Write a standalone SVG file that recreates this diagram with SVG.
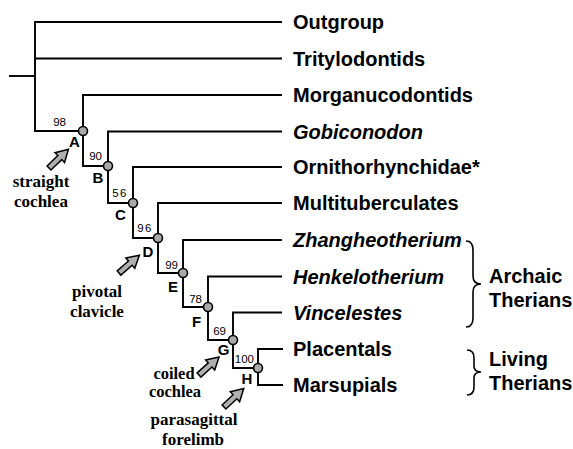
<svg xmlns="http://www.w3.org/2000/svg" width="573" height="449" viewBox="0 0 573 449">
<style>
.edge{fill:none;stroke:#000;stroke-width:1.9;stroke-linejoin:miter}
.nd{fill:#a8a8a8;stroke:#000;stroke-width:1.6}
.sup{font-family:"Liberation Sans",Arial,sans-serif;font-size:11.5px;fill:#000;text-anchor:end}
.ltr{font-family:"Liberation Sans",Arial,sans-serif;font-size:15px;font-weight:bold;fill:#000;text-anchor:middle}
.lab{font-family:"Liberation Sans",Arial,sans-serif;font-size:20px;font-weight:bold;fill:#000}
.it{font-style:italic}
.ann{font-family:"Liberation Serif","Times New Roman",serif;font-size:17px;font-weight:bold;fill:#000;text-anchor:middle}
.ann2{font-size:16.5px}
.brace{fill:none;stroke:#000;stroke-width:1.6}
.arw{fill:#b0b0b0;stroke:#000;stroke-width:1.5;stroke-linejoin:miter}
</style>
<defs>
<path id="arrow" class="arw" d="M0,-2.8 L15,-2.8 L15,-6.8 L27,0 L15,6.8 L15,2.8 L0,2.8 Z"/>
</defs>
<rect width="573" height="449" fill="#fff"/>
<g id="connectors">
<path class="edge" d="M9,76 H35"/>
<path class="edge" d="M282,22 H35 V131 H83"/>
<path class="edge" d="M35,58.5 H282"/>
<path class="edge" d="M282,95 H83 V166 H108"/>
<path class="edge" d="M282,131.5 H108 V203 H133"/>
<path class="edge" d="M282,167 H133 V238 H158"/>
<path class="edge" d="M282,203 H158 V273 H183"/>
<path class="edge" d="M282,240 H183 V307 H208"/>
<path class="edge" d="M282,276.5 H208 V340 H233"/>
<path class="edge" d="M282,312.5 H233 V368 H258"/>
<path class="edge" d="M283,349 H258 V385 H283"/>
</g>
<g id="node-A"><circle class="nd" cx="83" cy="131" r="4.5"/><text class="sup" x="66" y="126">98</text><text class="ltr" x="74.5" y="147">A</text></g>
<g id="node-B"><circle class="nd" cx="108" cy="166" r="4.5"/><text class="sup" x="102" y="160">90</text><text class="ltr" x="98" y="183">B</text></g>
<g id="node-C"><circle class="nd" cx="133" cy="203" r="4.5"/><text class="sup" x="128" y="197" letter-spacing="1.5">56</text><text class="ltr" x="120.5" y="220">C</text></g>
<g id="node-D"><circle class="nd" cx="158" cy="238" r="4.5"/><text class="sup" x="153" y="232" letter-spacing="1.5">96</text><text class="ltr" x="148" y="257">D</text></g>
<g id="node-E"><circle class="nd" cx="183" cy="273" r="4.5"/><text class="sup" x="178" y="269">99</text><text class="ltr" x="173" y="292">E</text></g>
<g id="node-F"><circle class="nd" cx="208" cy="307" r="4.5"/><text class="sup" x="202" y="303">78</text><text class="ltr" x="196.5" y="327">F</text></g>
<g id="node-G"><circle class="nd" cx="233" cy="340" r="4.5"/><text class="sup" x="226" y="335">69</text><text class="ltr" x="223.5" y="355">G</text></g>
<g id="node-H"><circle class="nd" cx="258" cy="368" r="4.5"/><text class="sup" x="254" y="363">100</text><text class="ltr" x="247" y="384">H</text></g>
<g id="leaf-outgroup"><text class="lab" x="293" y="29">Outgroup</text></g>
<g id="leaf-tritylodontids"><text class="lab" x="293" y="65.5">Tritylodontids</text></g>
<g id="leaf-morganucodontids"><text class="lab" x="293" y="102">Morganucodontids</text></g>
<g id="leaf-gobiconodon"><text class="lab it" x="293" y="138.5">Gobiconodon</text></g>
<g id="leaf-ornithorhynchidae"><text class="lab" x="293" y="174">Ornithorhynchidae*</text></g>
<g id="leaf-multituberculates"><text class="lab" x="293" y="210">Multituberculates</text></g>
<g id="leaf-zhangheotherium"><text class="lab it" x="293" y="247">Zhangheotherium</text></g>
<g id="leaf-henkelotherium"><text class="lab it" x="293" y="283.5">Henkelotherium</text></g>
<g id="leaf-vincelestes"><text class="lab it" x="293" y="319.5">Vincelestes</text></g>
<g id="leaf-placentals"><text class="lab" x="293" y="356">Placentals</text></g>
<g id="leaf-marsupials"><text class="lab" x="293" y="392">Marsupials</text></g>
<g id="group-archaic">
<path class="brace" d="M466,241 C471,241 473,244 473,250 L473,276 C473,281 476,284 481,284 C476,284 473,287 473,292 L473,318 C473,324 471,327 466,327"/>
<text class="lab" x="489" y="283">Archaic</text>
<text class="lab" x="489" y="307">Therians</text>
</g>
<g id="group-living">
<path class="brace" d="M467,350 C472,350 474,353 474,358 L474,366 C474,370 477,372 481,372 C477,372 474,374 474,378 L474,387 C474,392 472,395 467,395"/>
<text class="lab" x="489" y="366">Living</text>
<text class="lab" x="489" y="390">Therians</text>
</g>
<g id="annot-straight-cochlea">
<use href="#arrow" transform="translate(49,168) rotate(-44)"/>
<text class="ann" x="41" y="187">straight</text>
<text class="ann" x="41" y="207">cochlea</text>
</g>
<g id="annot-pivotal-clavicle">
<use href="#arrow" transform="translate(119,273) rotate(-41)"/>
<text class="ann" x="97" y="297">pivotal</text>
<text class="ann" x="97" y="317">clavicle</text>
</g>
<g id="annot-coiled-cochlea">
<use href="#arrow" transform="translate(199,375) rotate(-42)"/>
<text class="ann ann2" x="174" y="378.5">coiled</text>
<text class="ann ann2" x="175" y="397">cochlea</text>
</g>
<g id="annot-parasagittal-forelimb">
<use href="#arrow" transform="translate(224,407) rotate(-43)"/>
<text class="ann" x="194" y="425">parasagittal</text>
<text class="ann" x="193" y="445">forelimb</text>
</g>
</svg>
